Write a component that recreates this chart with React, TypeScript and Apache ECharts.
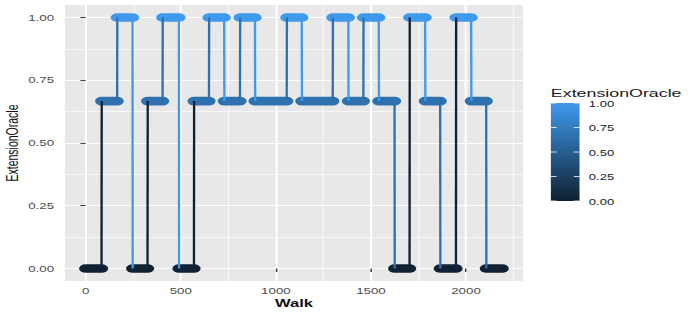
import React, { useEffect, useRef } from "react";
import * as echarts from "echarts";

// Runs of the walk: each run is a stretch of consecutive walk steps at one value
const runStart = [0, 84, 166, 247, 326, 405, 491, 570, 649, 729, 812, 891, 1058, 1137, 1300, 1382, 1461, 1542, 1625, 1704, 1786, 1865, 1948, 2028, 2107];
const runEnd = [83, 165, 246, 325, 404, 490, 569, 648, 728, 811, 890, 1057, 1136, 1299, 1381, 1460, 1541, 1624, 1703, 1785, 1864, 1947, 2027, 2106, 2190];
const runValue = [0, 0.667, 1, 0, 0.667, 1, 0, 0.667, 1, 0.667, 1, 0.667, 1, 0.667, 1, 0.667, 1, 0.667, 0, 1, 0.667, 0, 1, 0.667, 0];

const xTicks = [0, 500, 1000, 1500, 2000];
const xMinorTicks = [250, 750, 1250, 1750, 2250];
const yTicks = [0, 0.25, 0.5, 0.75, 1];
const yMinorTicks = [0.125, 0.375, 0.625, 0.875];
const legendTicks = [0, 0.25, 0.5, 0.75, 1];

const LOW = "#0f2133";
const HIGH = "#3f99ec";
const colorOf = (v: number) => echarts.color.lerp(v, [LOW, HIGH]) as string;

// The reference image is horizontally stretched; draw at a narrower width and stretch.
const OUT_W = 688;
const W = 444;
const H = 313;
const SX = OUT_W / W;

export default function App() {
  const ref = useRef<HTMLDivElement>(null);
  useEffect(() => {
    if (!ref.current) return;
    const chart = echarts.init(ref.current, null, { renderer: "svg", width: W, height: H });

    const xMax = Math.max(...runEnd);
    const xPad = xMax * 0.05;
    const runs = runStart.map((s, i) => [s, runEnd[i], runValue[i]]);
    const links = runStart.slice(1).map((s, i) => [runEnd[i], runValue[i], s, runValue[i + 1]]);

    const font = "Liberation Sans, Arial, Helvetica, sans-serif";
    const barX = 355.5, barY = 103, barW = 18.5, barH = 98;

    const legendGraphics: any[] = [
      {
        type: "text",
        x: barX,
        y: 92.5,
        style: {
          text: "ExtensionOracle",
          fontSize: 11.5,
          fontFamily: font,
          fill: "#1a1a1a",
          verticalAlign: "middle",
          align: "left",
        },
      },
      {
        type: "rect",
        shape: { x: barX, y: barY, width: barW, height: barH },
        style: {
          fill: new echarts.graphic.LinearGradient(0, 0, 0, 1, [
            { offset: 0, color: HIGH },
            { offset: 1, color: LOW },
          ]),
        },
      },
    ];
    legendTicks.forEach((v) => {
      const y = barY + barH - v * barH;
      legendGraphics.push(
        { type: "line", shape: { x1: barX, y1: y, x2: barX + barW / 5, y2: y }, style: { stroke: "#fff", lineWidth: 0.8 } },
        { type: "line", shape: { x1: barX + barW - barW / 5, y1: y, x2: barX + barW, y2: y }, style: { stroke: "#fff", lineWidth: 0.8 } },
        {
          type: "text",
          x: 380,
          y: y + 0.5,
          style: { text: v.toFixed(2), fontSize: 8.4, fontFamily: font, fill: "#222", verticalAlign: "middle", align: "left" },
        }
      );
    });

    chart.setOption({
      animation: false,
      grid: {
        left: 41.9,
        right: 106.5,
        top: 5,
        bottom: 32,
        show: true,
        backgroundColor: "#e8e8e8",
        borderWidth: 0,
        containLabel: false,
        outerBoundsMode: "none",
      },
      xAxis: [
        {
          type: "value",
          min: -xPad,
          max: xMax + xPad,
          axisLine: { show: false },
          axisTick: { show: true, length: 3.5, lineStyle: { color: "#333", width: 0.9 }, customValues: xTicks },
          axisLabel: {
            customValues: xTicks,
            color: "#4d4d4d",
            fontSize: 8.6,
            fontFamily: font,
            margin: 5.5,
            formatter: (v: number) => String(v),
          },
          splitLine: { show: true, lineStyle: { color: "#ffffff", width: 1.3 } },
          name: "Walk",
          nameLocation: "middle",
          nameGap: 17,
          nameMoveOverlap: false,
          nameTextStyle: { fontSize: 10.7, fontWeight: "bold", color: "#111", fontFamily: font },
        },
        {
          type: "value",
          min: -xPad,
          max: xMax + xPad,
          position: "bottom",
          axisLine: { show: false },
          axisTick: { show: false, customValues: xMinorTicks },
          axisLabel: { show: false, customValues: xMinorTicks },
          splitLine: { show: true, lineStyle: { color: "#ffffff", width: 0.6 } },
        },
      ],
      yAxis: [
        {
          type: "value",
          min: -0.05,
          max: 1.05,
          axisLine: { show: false },
          axisTick: { show: true, length: 3.5, lineStyle: { color: "#333", width: 0.9 }, customValues: yTicks },
          axisLabel: {
            customValues: yTicks,
            color: "#4d4d4d",
            fontSize: 8.6,
            fontFamily: font,
            margin: 7,
            formatter: (v: number) => v.toFixed(2),
          },
          splitLine: { show: true, lineStyle: { color: "#ffffff", width: 1.1 } },
          name: "ExtensionOracle",
          nameLocation: "middle",
          nameRotate: 90,
          nameGap: 28.5,
          nameMoveOverlap: false,
          nameTextStyle: { fontSize: 10.5, color: "#111", fontFamily: font },
        },
        {
          type: "value",
          min: -0.05,
          max: 1.05,
          position: "left",
          axisLine: { show: false },
          axisTick: { show: false, customValues: yMinorTicks },
          axisLabel: { show: false, customValues: yMinorTicks },
          splitLine: { show: true, lineStyle: { color: "#ffffff", width: 0.55 } },
        },
      ],
      graphic: legendGraphics,
      series: [
        {
          type: "custom",
          name: "runs",
          xAxisIndex: 0,
          yAxisIndex: 0,
          z: 3,
          data: runs,
          encode: { x: [0, 1], y: 2 },
          renderItem: (params: any, api: any) => {
            const s = api.value(0);
            const e = api.value(1);
            const v = api.value(2);
            const p1 = api.coord([s, v]);
            const p2 = api.coord([e, v]);
            return {
              type: "line",
              shape: { x1: p1[0], y1: p1[1], x2: p2[0], y2: p2[1] },
              style: { stroke: colorOf(v), lineWidth: 8.6, lineCap: "round" },
            };
          },
        },
        {
          type: "custom",
          name: "links",
          xAxisIndex: 0,
          yAxisIndex: 0,
          z: 4,
          data: links,
          encode: { x: [0, 2], y: [1, 3] },
          renderItem: (params: any, api: any) => {
            const x1 = api.value(0);
            const v1 = api.value(1);
            const x2 = api.value(2);
            const v2 = api.value(3);
            const p1 = api.coord([x1, v1]);
            const p2 = api.coord([x2, v2]);
            return {
              type: "line",
              shape: { x1: p1[0], y1: p1[1], x2: p2[0], y2: p2[1] },
              style: { stroke: colorOf(v1), lineWidth: 1.5 },
            };
          },
        },
      ],
    });
    return () => chart.dispose();
  }, []);

  return (
    <div
      ref={ref}
      style={{
        position: "absolute",
        left: 0,
        top: 0,
        width: W,
        height: H,
        transform: `scaleX(${SX})`,
        transformOrigin: "0 0",
        background: "#fff",
      }}
    />
  );
}
